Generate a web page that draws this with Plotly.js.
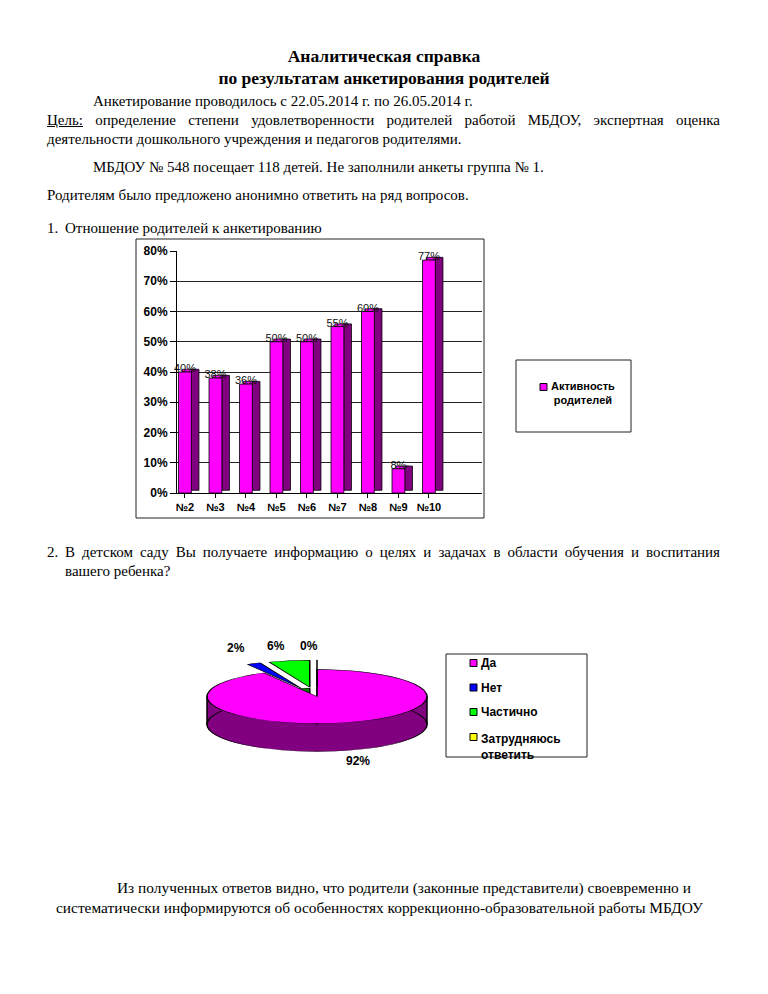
<!DOCTYPE html>
<html><head><meta charset="utf-8">
<script src="https://cdn.plot.ly/plotly-3.0.1.min.js"></script>
<style>
body{margin:0;width:768px;height:994px;position:relative;background:#fff;overflow:hidden;}
#main{position:absolute;left:0;top:0;width:768px;height:994px;z-index:1;}
#pie{position:absolute;z-index:2;transform-origin:0 0;}
.t{position:absolute;z-index:3;font-family:"Liberation Serif","Times New Roman",serif;font-size:15px;color:#000;white-space:nowrap;line-height:18px;}
.j{white-space:normal;text-align:justify;text-align-last:justify;}
.b{font-weight:bold;font-size:17.5px;left:0;width:768px;text-align:center;}
.p{font-size:15.4px;}
</style></head>
<body>
<div id="main"></div>
<div id="pie"></div>
<div class="t b" style="top:47px">Аналитическая справка</div>
<div class="t b" style="top:69px">по результатам анкетирования родителей</div>
<div class="t" style="left:93px;top:92px">Анкетирование проводилось с 22.05.2014 г. по 26.05.2014 г.</div>
<div class="t j" style="left:47px;top:111px;width:673px"><u>Цель:</u> определение степени удовлетворенности родителей работой МБДОУ, экспертная оценка</div>
<div class="t" style="left:47px;top:130px">деятельности дошкольного учреждения и педагогов родителями.</div>
<div class="t" style="left:93px;top:158px">МБДОУ № 548 посещает 118 детей. Не заполнили анкеты группа № 1.</div>
<div class="t" style="left:47px;top:186px">Родителям было предложено анонимно ответить на ряд вопросов.</div>
<div class="t" style="left:47px;top:219px">1.</div>
<div class="t" style="left:65px;top:219px">Отношение родителей к анкетированию</div>
<div class="t" style="left:47px;top:543px">2.</div>
<div class="t j" style="left:65px;top:543px;width:655px">В детском саду Вы получаете информацию о целях и задачах в области обучения и воспитания</div>
<div class="t" style="left:65px;top:562px">вашего ребенка?</div>
<div class="t p" style="left:117px;top:879px">Из полученных ответов видно, что родители (законные представители) своевременно и</div>
<div class="t p" style="left:56px;top:899px">систематически информируются об особенностях коррекционно-образовательной работы МБДОУ</div>
<script>
// ---------- data ----------
const barCategories = ['№2','№3','№4','№5','№6','№7','№8','№9','№10'];
const barValues = [40, 38, 36, 50, 50, 55, 60, 8, 77];
const barSeriesName = 'Активность родителей';
const yTickVals = [0, 10, 20, 30, 40, 50, 60, 70, 80];
const yTickText = ['0%','10%','20%','30%','40%','50%','60%','70%','80%'];

const pieLabels = ['Да', 'Нет', 'Частично', 'Затрудняюсь ответить'];
const pieValues = [92, 2, 6, 0];
const pieColors = ['#FF00FF', '#0000FF', '#00FF00', '#FFFF00'];
const pieSideColors = ['#800080', '#000080', '#008000', '#808000'];
const piePull = [0, 0.35, 0.35, 0.35];

// ---------- helpers ----------
const W = 768, H = 994;
const px = v => v / W, py = v => 1 - v / H;
const SANS = 'Liberation Sans, Arial, sans-serif';
const depthPct = 0.9; // 3D depth in axis units

// ---------- bar chart ----------
const topFace = {
  type: 'bar', x: barCategories, y: barValues.map(() => depthPct), base: barValues,
  width: 0.42, offset: -0.085, marker: {color: '#FF00FF', line: {color: '#000', width: 0.8}},
  hoverinfo: 'skip'
};
const sideFace = {
  type: 'bar', x: barCategories, y: barValues, base: barValues.map(() => depthPct),
  width: 0.25, offset: 0.21, marker: {color: '#800080', line: {color: '#000', width: 0.8}},
  hoverinfo: 'skip'
};
const frontFace = {
  type: 'bar', name: barSeriesName, x: barCategories, y: barValues,
  width: 0.42, offset: -0.21, marker: {color: '#FF00FF', line: {color: '#000', width: 0.8}}
};
const barLabels = {
  type: 'scatter', mode: 'text', x: barCategories, y: barValues.map(v => v + depthPct),
  text: barValues.map(v => v + '%'), textposition: 'middle center', cliponaxis: false,
  textfont: {family: SANS, size: 11, color: '#111'}, hoverinfo: 'skip'
};

const shapes = [];
const annotations = [];
// outer chart frame
shapes.push({type:'rect', xref:'paper', yref:'paper', x0:px(136), x1:px(484), y0:py(518), y1:py(239), line:{color:'#222', width:1}});
// bar legend
shapes.push({type:'rect', xref:'paper', yref:'paper', x0:px(516), x1:px(631), y0:py(432), y1:py(360), line:{color:'#222', width:1}});
shapes.push({type:'rect', xref:'paper', yref:'paper', x0:px(540), x1:px(547), y0:py(390.5), y1:py(383.5), fillcolor:frontFace.marker.color, line:{color:'#000', width:1}});
annotations.push({xref:'paper', yref:'paper', x:px(549), y:py(393), xanchor:'left', yanchor:'middle', align:'center', showarrow:false,
  text: barSeriesName.replace(' ', '<br>'), font:{family:SANS, size:11, color:'#000', weight:'bold'}});

// pie legend
shapes.push({type:'rect', xref:'paper', yref:'paper', x0:px(446), x1:px(587), y0:py(757), y1:py(654), line:{color:'#222', width:1}});
const legY = [663, 687.5, 712, 737];
pieLabels.forEach((lab, i) => {
  shapes.push({type:'rect', xref:'paper', yref:'paper', x0:px(470), x1:px(477), y0:py(legY[i]+3.5), y1:py(legY[i]-3.5), fillcolor:pieColors[i], line:{color:'#000', width:1}});
  annotations.push({xref:'paper', yref:'paper', x:px(479), y:py(legY[i]), xanchor:'left', yanchor: i === 3 ? 'top' : 'middle', yshift: i === 3 ? 7 : 0,
    align:'left', showarrow:false, text: lab.replace(' ', '<br>'), font:{family:SANS, size:12, color:'#000', weight:'bold'}});
});
// pie percentage labels
const pieLabelPos = [[358, 761], [236, 648], [276, 646], [309, 646]];
pieValues.forEach((v, i) => {
  annotations.push({xref:'paper', yref:'paper', x:px(pieLabelPos[i][0]), y:py(pieLabelPos[i][1]), xanchor:'center', yanchor:'middle', showarrow:false,
    text: v + '%', font:{family:SANS, size:12, color:'#000', weight:'bold'}});
});

const layout = {
  width: W, height: H, margin: {l:0, r:0, t:0, b:0},
  paper_bgcolor: '#fff', plot_bgcolor: 'rgba(0,0,0,0)',
  showlegend: false, barmode: 'overlay', bargap: 0,
  xaxis: {domain: [px(177), px(482)], type: 'category', range: [-0.26, 9.74], categoryorder: 'array', categoryarray: barCategories,
    showline: true, linecolor: '#000', linewidth: 1, ticks: 'outside', ticklen: 4, tickcolor: '#000',
    showgrid: false, zeroline: false, fixedrange: true,
    tickfont: {family: SANS, size: 11, color: '#000', weight: 'bold'}},
  yaxis: {domain: [py(493), py(251)], range: [0, 80], tickvals: yTickVals, ticktext: yTickText,
    showline: true, linecolor: '#000', linewidth: 1, ticks: 'outside', ticklen: 6, tickcolor: '#000',
    showgrid: true, gridcolor: '#222', gridwidth: 1, zeroline: false, fixedrange: true,
    tickfont: {family: SANS, size: 12, color: '#000', weight: 'bold'}},
  shapes, annotations
};
Plotly.newPlot('main', [topFace, sideFace, frontFace, barLabels], layout, {staticPlot: true});

// ---------- 3D-ish pie (squashed vertically) ----------
const pieCx = 317, pieCy = 696.5, pieRx = 110, pieRy = 27, pieDepth = 28;
const s = pieRy / pieRx;
const pieLeft = pieCx - 150, pieTop = 640, pieW = 300;
const maxPull = Math.max(...piePull);
const half = pieRx * (1 + maxPull);
const ucx = pieCx - pieLeft, ucy = (pieCy - pieTop) / s, ud = pieDepth / s;
const pieH = Math.ceil(ucy + ud + half + 4);
const pd = document.getElementById('pie');
pd.style.left = pieLeft + 'px'; pd.style.top = pieTop + 'px';
pd.style.width = pieW + 'px'; pd.style.height = pieH + 'px';
pd.style.transform = 'scaleY(' + s + ')';
const dom = (cy) => ({x: [(ucx - half) / pieW, (ucx + half) / pieW], y: [1 - (cy + half) / pieH, 1 - (cy - half) / pieH]});
const pieCommon = {type: 'pie', labels: pieLabels, values: pieValues, sort: false, direction: 'clockwise', rotation: 0,
  pull: piePull, textinfo: 'none', hoverinfo: 'none'};
const pieBottom = Object.assign({}, pieCommon, {domain: dom(ucy + ud), marker: {colors: pieSideColors, line: {color: '#000', width: 1.5}}});
const pieTopTr = Object.assign({}, pieCommon, {domain: dom(ucy), marker: {colors: pieColors, line: {color: '#000', width: 1.5}}});
Plotly.newPlot('pie', [pieBottom, pieTopTr], {
  width: pieW, height: pieH, margin: {l:0, r:0, t:0, b:0}, showlegend: false,
  paper_bgcolor: 'rgba(0,0,0,0)', plot_bgcolor: 'rgba(0,0,0,0)',
  shapes: [{type: 'rect', xref: 'paper', yref: 'paper', layer: 'below',
    x0: (ucx - pieRx) / pieW, x1: (ucx + pieRx) / pieW, y0: 1 - (ucy + ud) / pieH, y1: 1 - ucy / pieH,
    fillcolor: pieSideColors[0], line: {color: '#000', width: 1.5}}]
}, {staticPlot: true});
</script>
</body></html>
